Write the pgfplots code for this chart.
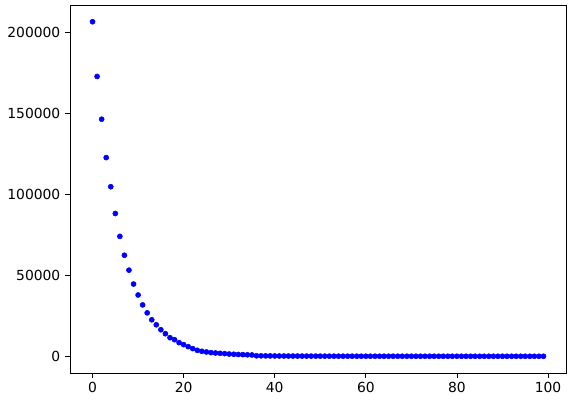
\documentclass[border=0pt]{standalone}
\usepackage{fontspec}
\setmainfont{DejaVu Sans}
\usepackage{pgfplots}
\pgfplotsset{compat=1.18}
\begin{document}
\fontsize{10.4pt}{12pt}\selectfont
\begin{tikzpicture}
\begin{axis}[
  scale only axis,
  width=372pt, height=276pt,
  xmin=-4.95, xmax=103.95,
  ymin=-10330, ymax=216930,
  xtick={0,20,40,60,80,100},
  ytick={0,50000,100000,150000,200000},
  scaled y ticks=false,
  /pgf/number format/.cd, fixed, precision=0, 1000 sep={}, assume math mode=true,
  /pgfplots/.cd,
  tick align=outside,
  major tick length=3.6pt,
  tick style={line width=0.6pt, black},
  axis line style={line width=0.6pt},
  xtick pos=bottom, ytick pos=left,
  tick label style={font=\fontsize{10.4pt}{12pt}\selectfont},
]
\addplot[only marks, mark=*, mark size=1.9pt, color={rgb,255:red,0;green,0;blue,255}] coordinates {
(0,206600) (1,172800) (2,146400) (3,122700) (4,104700) (5,88160) (6,74050) (7,62390) (8,53190) (9,44600)
(10,37850) (11,31720) (12,26810) (13,22520) (14,19450) (15,16380) (16,13930) (17,11470) (18,10250) (19,8400)
(20,7180) (21,5950) (22,4720) (23,3700) (24,3070) (25,2660) (26,2250) (27,2040) (28,1840) (29,1640)
(30,1400) (31,1250) (32,1100) (33,1000) (34,900) (35,800) (36,300) (37,270) (38,240) (39,220)
(40,200) (41,180) (42,160) (43,150) (44,140) (45,130) (46,120) (47,110) (48,100) (49,90)
(50,80) (51,75) (52,70) (53,65) (54,60) (55,55) (56,50) (57,45) (58,40) (59,38)
(60,36) (61,34) (62,32) (63,30) (64,28) (65,26) (66,24) (67,22) (68,20) (69,19)
(70,18) (71,17) (72,16) (73,15) (74,14) (75,13) (76,12) (77,11) (78,10) (79,10)
(80,9) (81,9) (82,8) (83,8) (84,7) (85,7) (86,6) (87,6) (88,5) (89,5)
(90,5) (91,4) (92,4) (93,4) (94,3) (95,3) (96,3) (97,2) (98,2) (99,2)
};
\end{axis}
\path[use as bounding box] ([shift={(-52.5pt,-20.25pt)}]current axis.south west) rectangle ([shift={(3pt,3.75pt)}]current axis.north east);
\end{tikzpicture}
\end{document}
